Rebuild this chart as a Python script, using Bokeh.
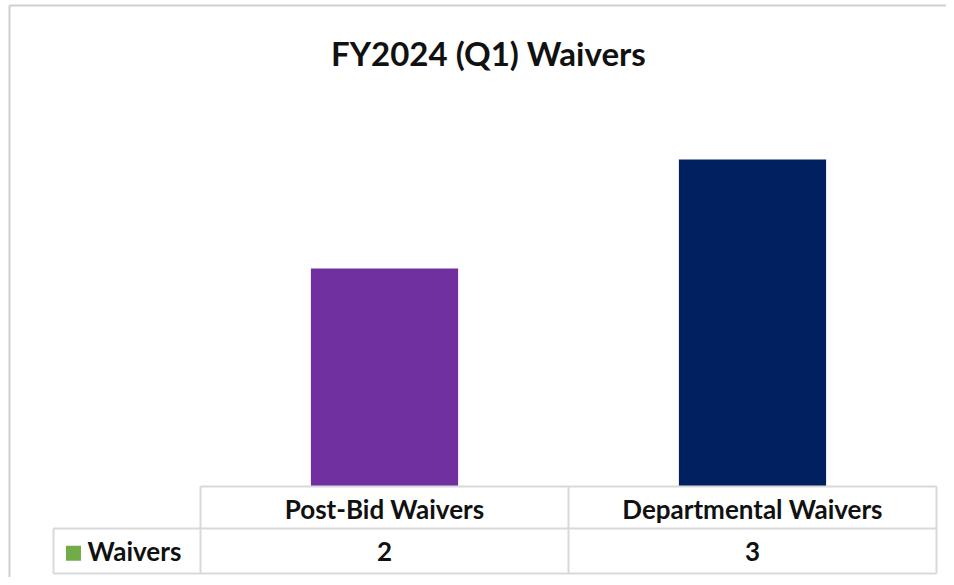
from bokeh.plotting import figure
from bokeh.models import Range1d, Label
from bokeh.core.properties import value
from bokeh.embed import file_html
from bokeh.resources import INLINE

# ---- data ----
title_text = "FY2024 (Q1) Waivers"
categories = ["Post-Bid Waivers", "Departmental Waivers"]
values = [2, 3]
bar_colors = ["#7030A0", "#002060"]
series_name = "Waivers"
series_color = "#70AD47"

# ---- layout ----
W, H = 946, 577
px_per_cat = 368.0
px_per_unit = 109.0
x0_px = 384.0   # center of first category from canvas left
y0_px = 486.0   # zero line from canvas top
FONT = "Lato"
GRID = "#D9D9D9"
TXT = "#111111"

p = figure(width=W, height=H, output_backend="svg", toolbar_location=None,
           x_axis_type=None, y_axis_type=None, min_border=0,
           x_range=Range1d(-x0_px / px_per_cat, (W - x0_px) / px_per_cat),
           y_range=Range1d(-(H - y0_px) / px_per_unit, y0_px / px_per_unit))
p.grid.visible = False
p.outline_line_color = None
p.background_fill_color = "white"
p.border_fill_color = "white"

def px_x(px):
    return (px - x0_px) / px_per_cat

def px_y(py):
    return (y0_px - py) / px_per_unit

# chart area border (left and top edges)
p.segment(x0=[px_x(9), px_x(9)], y0=[px_y(5), px_y(5)],
          x1=[px_x(9), px_x(W)], y1=[px_y(H), px_y(5)],
          line_color="#CFCFCF", line_width=2)

xs = list(range(len(categories)))
p.vbar(x=xs, top=values, bottom=0, width=0.4, color=bar_colors, line_color=None)

# data table geometry (in data units)
row1 = -42 / px_per_unit
row2 = -87 / px_per_unit
left_cell = -0.5 - 147 / px_per_cat
right_edge = len(categories) - 0.5

hx0 = [-0.5, left_cell, left_cell]
hx1 = [right_edge, right_edge, right_edge]
hy = [0, row1, row2]
p.segment(x0=hx0, y0=hy, x1=hx1, y1=hy, line_color=GRID, line_width=2)

vx = [left_cell] + [i - 0.5 for i in range(len(categories) + 1)]
vy0 = [row1] + [0] * (len(categories) + 1)
vy1 = [row2] * (len(categories) + 2)
p.segment(x0=vx, y0=vy0, x1=vx, y1=vy1, line_color=GRID, line_width=2)

# header labels
p.text(x=xs, y=[row1 / 2 - 0.01] * len(xs), text=categories,
       text_font=value(FONT), text_font_style="bold", text_font_size="26px",
       text_align="center", text_baseline="middle", text_color=TXT)
# values
p.text(x=xs, y=[(row1 + row2) / 2] * len(xs), text=[str(v) for v in values],
       text_font=value(FONT), text_font_style="bold", text_font_size="26px",
       text_align="center", text_baseline="middle", text_color=TXT)
# legend key + series name
p.scatter(x=[left_cell + 20 / px_per_cat], y=[(row1 + row2) / 2 - 0.02], marker="square",
          size=15, fill_color=series_color, line_color=None)
p.text(x=[left_cell + 34 / px_per_cat], y=[(row1 + row2) / 2], text=[series_name],
       text_font=value(FONT), text_font_style="bold", text_font_size="26px",
       text_align="left", text_baseline="middle", text_color=TXT)

title = Label(x=488, y=H - 52, x_units="screen", y_units="screen", text=title_text,
              text_font=FONT, text_font_style="bold", text_font_size="33px",
              text_align="center", text_baseline="middle", text_color=TXT)
p.add_layout(title)

open("out.html", "w").write(file_html(p, INLINE))
